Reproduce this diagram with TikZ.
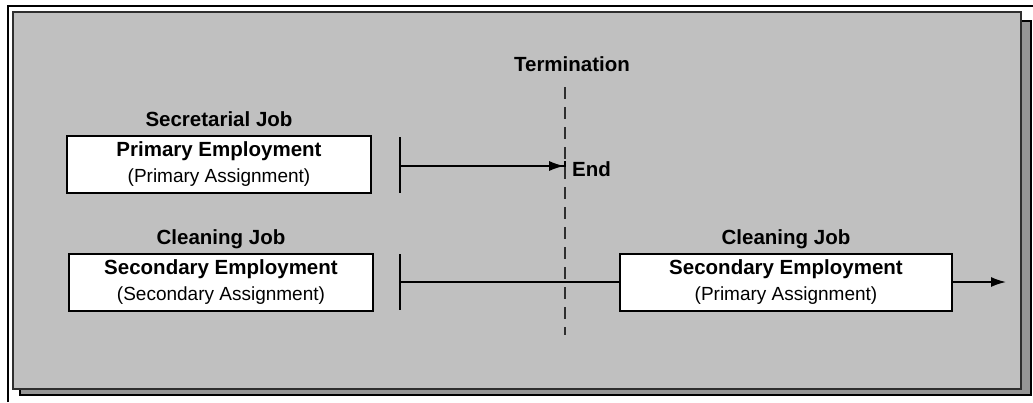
\documentclass[tikz,border=0pt]{standalone}
\usepackage{fontspec}
\setmainfont{Liberation Sans}
\usetikzlibrary{arrows.meta}
\usetikzlibrary{positioning}
\definecolor{panelgray}{HTML}{C0C0C0}
\definecolor{shadowgray}{HTML}{959595}
\definecolor{edgegray}{HTML}{2E2E2E}
\newcommand{\asgn}[1]{{\mdseries\fontsize{19}{26}\selectfont(#1)}}

\begin{document}
\begin{tikzpicture}[%
        x=1pt, y=-1pt,
        every node/.style={inner sep=0pt, font=\fontsize{20.5}{26}\selectfont\bfseries},
        empbox/.style={draw, fill=white, line width=2pt, align=center, minimum height=57pt},
        joblabel/.style={text height=14pt, text depth=4pt},
        >={Latex[length=15pt,width=10pt]},
        shorten >=0pt,
        node distance=4pt
      ]
      \useasboundingbox (0,0) rectangle (1033,402);
      \draw [line width=1.6pt, fill=shadowgray] (20,21) rectangle (1031,395);
      \draw [line width=1.8pt, draw=edgegray, fill=panelgray] (13,12) rectangle (1021,389);
      \draw [line width=1.6pt] (8,402) -- (8,6) -- (1033,6);
      \node (primary) [empbox, minimum width=304pt] at (219,164.5) {Primary Employment\\\asgn{Primary Assignment}};
      \node (secjob) [joblabel, above=of primary] {Secretarial Job};
      \node (secondary) [empbox, minimum width=304pt] at (221,282) {Secondary Employment\\\asgn{Secondary Assignment}};
      \node (cleanjob) [joblabel, above=of secondary] {Cleaning Job};
      \node (secprimary) [empbox, minimum width=332pt] at (786,282) {Secondary Employment\\\asgn{Primary Assignment}};
      \node (cleanjobnew) [joblabel, above=of secprimary] {Cleaning Job};
      \node (term) at (572,64) {Termination};
      \node (endlbl) [anchor=west] at (572,169) {End};
      \coordinate (tick1a) at (400,137);
      \coordinate (tick1b) at (400,193);
      \coordinate (start1) at (400,166);
      \coordinate (stop1) at (566,166);
      \coordinate (tick2a) at (400,254);
      \coordinate (tick2b) at (400,310);
      \coordinate (start2) at (400,282);
      \coordinate (cont) at (1006,282);
      \coordinate (dtop) at (565,87);
      \coordinate (dbot) at (565,335);
      \path [draw, line width=1.8pt] (tick1a) -- (tick1b) (tick2a) -- (tick2b);
      \path [draw, line width=1.6pt] (start1) edge[-{>[sep=0pt]Bar[width=10pt,line width=1.8pt]}] (stop1)
      (start2) edge (secprimary)
      (secprimary) edge[->] (cont);
      \draw [draw=edgegray, line width=2.6pt, dash pattern=on 12pt off 8pt] (dtop) -- (dbot);
    \end{tikzpicture}
\end{document}
